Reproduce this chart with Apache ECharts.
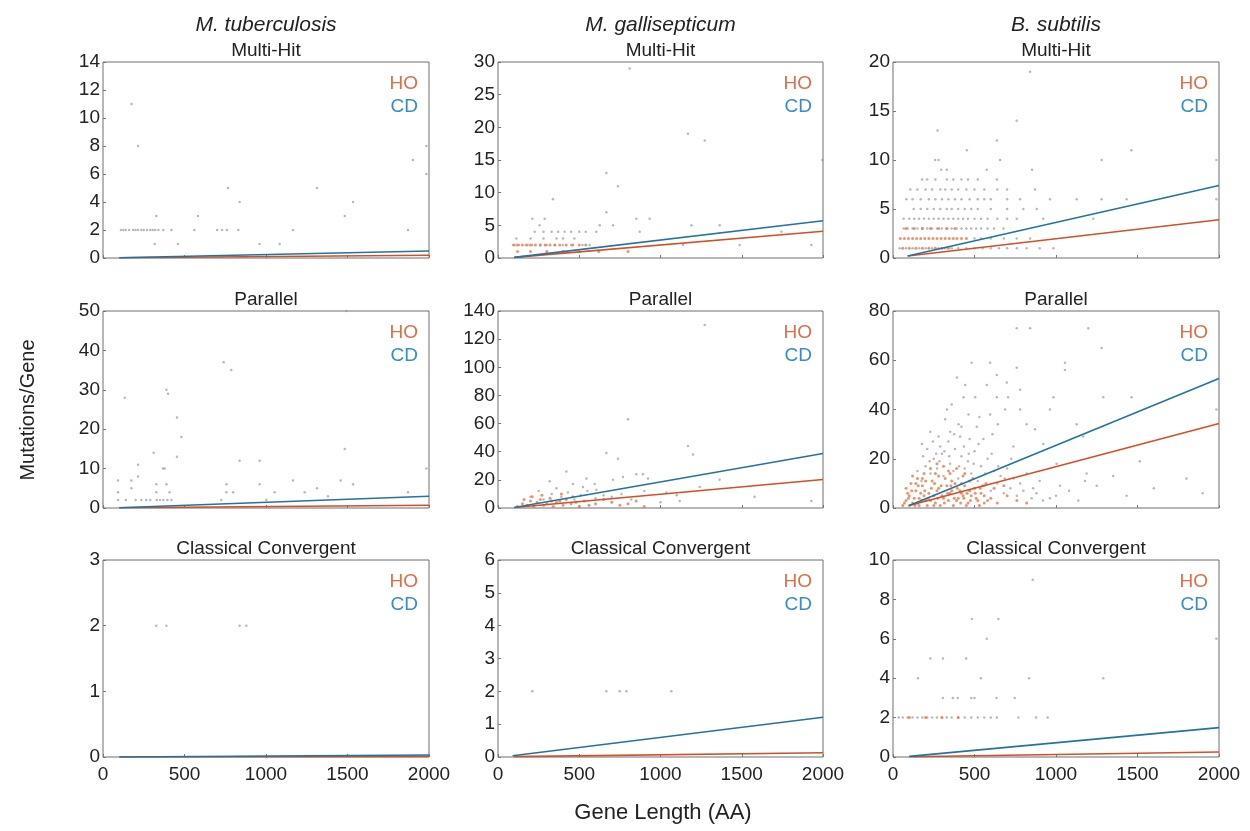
<!DOCTYPE html>
<html>
<head>
<meta charset="utf-8">
<script src="https://cdn.jsdelivr.net/npm/echarts@6/dist/echarts.min.js"></script>
<style>
html, body { margin: 0; background: #fff; }
#chart { width: 1250px; height: 831px; }
</style>
</head>
<body>
<div id="chart"></div>
<script>
// labels
const species = ['M. tuberculosis', 'M. gallisepticum', 'B. subtilis'];
const panelNames = ['Multi-Hit', 'Parallel', 'Classical Convergent'];
const xTicks = [0, 500, 1000, 1500, 2000];

// y scale per panel (row by row)
const yMax = [14, 30, 20, 50, 140, 80, 3, 6, 10];
const yStep = [2, 5, 5, 10, 20, 20, 1, 1, 2];

// fitted lines [start, end] per panel
const hoFit = [
  [[100, 0.02], [2000, 0.2]],
  [[100, 0.1], [2000, 4.1]],
  [[90, 0.2], [2000, 3.9]],
  [[100, 0.05], [2000, 0.7]],
  [[100, 0.3], [2000, 20.2]],
  [[100, 1], [2000, 34.3]],
  [[100, 0], [2000, 0.01]],
  [[100, 0.01], [2000, 0.13]],
  [[100, 0.01], [2000, 0.25]],
];
const cdFit = [
  [[100, 0.02], [2000, 0.5]],
  [[100, 0.1], [2000, 5.7]],
  [[90, 0.2], [2000, 7.4]],
  [[100, 0.05], [2000, 3.0]],
  [[100, 0.3], [2000, 38.7]],
  [[100, 1], [2000, 52.6]],
  [[100, 0], [2000, 0.03]],
  [[90, 0.04], [2000, 1.21]],
  [[100, 0.03], [2000, 1.49]],
];

// scattered genes: single points, then rows of genes sharing a count
const mtbMultiPts = [[175, 11], [215, 8], [767, 5], [838, 4], [1313, 5], [1534, 4], [1483, 3],
  [1902, 7], [1984, 8], [1984, 6], [327, 3], [583, 3]];
const mtbMultiRows = [
  [2, [110, 125, 140, 160, 185, 200, 215, 235, 250, 270, 290, 305, 320, 340, 370, 420, 560, 700, 730, 760, 830, 1166, 1871]],
  [1, [317, 460, 961, 1084]],
];
const mgMultiPts = [[810, 29], [1169, 19], [1272, 18], [1996, 15], [667, 13], [738, 11], [667, 7],
  [338, 9], [211, 6], [287, 6], [851, 6], [933, 6], [626, 5], [708, 5], [256, 5], [1190, 5],
  [1364, 5], [1744, 4], [872, 4], [1138, 2], [1487, 2], [1928, 2]];
const mgMultiRows = [
  [4, [226, 280, 330, 370, 410, 450, 500, 540, 605]],
  [3, [113, 200, 280, 360, 400, 470]],
  [2, [92, 130, 170, 210, 260, 300, 350, 400, 450, 520, 564]],
];
const mgMultiHo = [
  [2, [100, 120, 150, 180, 200, 230, 260, 290, 320, 350, 380, 420, 460, 500, 540]],
  [1, [120, 200, 300, 400, 500, 620, 800]],
];
const bsMultiPts = [[841, 19], [759, 14], [273, 13], [637, 12], [453, 11], [1463, 11], [1984, 10],
  [259, 10], [280, 10], [657, 10], [1280, 10]];
const bsMultiRows = [
  [9, [296, 330, 575, 853]],
  [8, [178, 210, 260, 330, 370, 420, 460, 520, 637]],
  [7, [106, 150, 200, 240, 290, 320, 360, 400, 450, 500, 560, 640, 700, 871]],
  [6, [82, 120, 170, 220, 260, 300, 340, 380, 420, 470, 520, 560, 600, 700, 780, 963, 1127, 1280, 1433, 1984]],
  [5, [127, 170, 210, 250, 290, 330, 360, 400, 440, 480, 520, 600, 700, 800, 882]],
  [4, [65, 100, 130, 160, 190, 220, 250, 280, 310, 340, 370, 400, 430, 460, 500, 540, 580, 640, 700, 759, 922, 1229]],
  [3, [65, 90, 120, 150, 180, 210, 240, 270, 300, 330, 360, 390, 420, 450, 480, 510, 540, 580, 620, 678]],
  [2, [500, 540, 600, 680, 759, 841]],
  [1, [41, 80, 120, 160, 200, 240, 280, 320, 360, 400, 450, 500, 550, 600, 650, 700, 760, 820, 900, 984]],
];
const bsMultiHo = [
  [3, [80, 130, 180, 230, 280, 330, 380]],
  [2, [45, 70, 95, 120, 145, 170, 195, 220, 245, 270, 295, 320, 345, 370, 392, 420, 450]],
  [1, [60, 100, 140, 180, 220, 260, 300, 340]],
];
const mtbParPts = [[133, 28], [740, 37], [787, 35], [389, 30], [399, 29], [454, 23], [481, 18],
  [311, 14], [368, 10], [378, 10], [454, 13], [215, 11], [215, 8], [92, 7], [174, 7], [174, 5],
  [327, 6], [389, 6], [838, 12], [961, 12], [757, 6], [961, 6], [1166, 7], [1237, 4], [1313, 5],
  [1380, 3], [1483, 15], [1458, 7], [1534, 6], [1871, 4], [1984, 10], [1493, 50], [757, 4],
  [798, 4], [1053, 4], [92, 4], [327, 4], [409, 4]];
const mtbParRows = [
  [2, [92, 140, 200, 235, 265, 290, 330, 350, 370, 395, 420, 726, 1002]],
];
const mgParPts = [[1272, 130], [800, 63], [1169, 44], [1200, 38], [667, 39], [738, 35], [318, 19],
  [421, 26], [544, 21], [595, 17], [708, 20], [769, 22], [851, 24], [892, 24], [923, 21], [1036, 11],
  [1118, 5], [1241, 15], [1364, 20], [1579, 8], [1928, 5], [462, 17], [523, 15], [605, 13],
  [200, 8], [250, 12], [280, 6], [330, 10], [360, 14], [390, 8], [430, 11], [470, 6], [510, 9],
  [550, 12], [600, 7], [650, 9], [700, 8], [760, 10], [820, 6], [900, 12], [1000, 4], [1100, 9]];
const mgParHoPts = [[120, 1], [150, 3], [180, 2], [200, 5], [220, 1], [240, 4], [260, 6], [280, 2],
  [300, 3], [320, 7], [340, 1], [360, 4], [380, 5], [400, 2], [420, 6], [450, 3], [480, 4], [500, 1],
  [530, 5], [560, 2], [600, 3], [650, 6], [700, 4], [750, 2], [800, 3], [850, 5], [900, 1], [160, 6],
  [210, 8], [270, 9], [330, 5], [390, 10], [460, 8]];
const bsParPts = [[759, 73], [841, 73], [1198, 73], [1280, 65], [482, 59], [596, 59], [1055, 59],
  [1055, 56], [759, 57], [392, 53], [637, 54], [443, 50], [575, 50], [698, 51], [780, 48], [433, 45],
  [504, 45], [637, 45], [706, 45], [984, 45], [1290, 45], [1463, 45], [963, 40], [331, 40], [463, 38],
  [596, 38], [688, 40], [780, 40], [1984, 40], [229, 31], [280, 29], [351, 31], [402, 34], [514, 33],
  [643, 34], [820, 34], [871, 32], [1167, 29], [1127, 34], [1514, 19], [178, 26], [290, 25], [412, 29],
  [555, 28], [739, 25], [922, 26], [1004, 18], [1188, 14], [1178, 11], [1024, 9], [963, 4], [1137, 3],
  [1433, 5], [250, 20], [300, 22], [350, 18], [380, 24], [420, 21], [460, 19], [500, 23], [540, 17],
  [580, 20], [620, 15], [660, 13], [700, 16], [740, 12], [780, 10], [820, 14], [860, 8], [900, 11],
  [200, 17], [230, 14], [270, 16], [310, 13], [340, 27], [370, 15], [400, 12], [440, 16], [480, 14],
  [520, 11], [560, 9], [600, 7], [640, 10], [680, 6], [720, 8], [760, 5], [800, 7], [850, 4], [880, 6],
  [920, 3], [1000, 5], [1080, 7], [1250, 9], [1350, 13], [1600, 8], [1800, 12], [1900, 6],
  [320, 36], [360, 42], [420, 33], [470, 28], [530, 37], [610, 30], [265, 22], [225, 19], [185, 21],
  [150, 15], [175, 11], [210, 24], [245, 27], [285, 19], [315, 23], [345, 21], [375, 30], [405, 17],
  [435, 25], [465, 22], [495, 18], [525, 26], [565, 14], [605, 22], [645, 17], [685, 12], [725, 20]];
const bsParHoPts = [[60, 1], [80, 3], [100, 5], [120, 2], [140, 7], [160, 4], [180, 9], [200, 3],
  [220, 6], [240, 11], [260, 2], [280, 8], [300, 5], [320, 12], [340, 3], [360, 7], [380, 10], [400, 4],
  [420, 6], [440, 9], [460, 2], [480, 5], [500, 8], [520, 3], [540, 6], [560, 2], [80, 8], [110, 10],
  [150, 12], [190, 14], [230, 16], [270, 18], [310, 17], [350, 14], [390, 16], [430, 13], [470, 11],
  [210, 1], [290, 1], [370, 1], [450, 1], [530, 1], [600, 4], [640, 2], [700, 5], [760, 3], [820, 2],
  [130, 4], [170, 6], [250, 5], [330, 9], [410, 7], [490, 12], [570, 10], [620, 8], [680, 9],
  [90, 6], [150, 2], [190, 5], [230, 3], [270, 7], [310, 4], [350, 6], [390, 3], [430, 5], [470, 7],
  [510, 4], [550, 9], [120, 13], [200, 11], [280, 13], [360, 11], [440, 14], [100, 1], [160, 1], [250, 1],
  [70, 2], [95, 4], [115, 7], [135, 1], [155, 9], [175, 3], [195, 7], [215, 4], [235, 8], [255, 10],
  [275, 4], [295, 9], [315, 2], [335, 6], [355, 9], [375, 4], [395, 8], [415, 2], [435, 4], [455, 6],
  [475, 3], [505, 6], [535, 8], [560, 5], [580, 3], [140, 10], [180, 12], [260, 14], [340, 15], [420, 10]];
const mtbConvPts = [[327, 2], [389, 2], [838, 2], [879, 2]];
const mgConvPts = [[211, 2], [667, 2], [749, 2], [790, 2], [1067, 2]];
const bsConvPts = [[857, 9], [484, 7], [647, 7], [575, 6], [229, 5], [306, 5], [449, 5], [153, 4],
  [539, 4], [835, 4], [1290, 4], [1984, 6]];
const bsConvRows = [
  [3, [306, 367, 398, 480, 500, 635, 747]],
  [2, [35, 60, 90, 120, 150, 180, 210, 240, 270, 300, 330, 360, 400, 440, 480, 520, 560, 600, 637, 769, 878, 949]],
];
const bsConvHo = [[100, 2], [200, 2], [300, 2], [400, 2]];

function rows(list) {
  const out = [];
  list.forEach(([y, xs]) => xs.forEach((x) => out.push([x, y])));
  return out;
}

const grayPts = [
  mtbMultiPts.concat(rows(mtbMultiRows)),
  mgMultiPts.concat(rows(mgMultiRows)),
  bsMultiPts.concat(rows(bsMultiRows)),
  mtbParPts.concat(rows(mtbParRows)),
  mgParPts,
  bsParPts,
  mtbConvPts,
  mgConvPts,
  bsConvPts.concat(rows(bsConvRows)),
];
const hoPts = [[], rows(mgMultiHo), rows(bsMultiHo), [], mgParHoPts, bsParHoPts, [], [], bsConvHo];

// layout
const colLeft = [103, 498, 893];
const colWidth = [326, 325, 326];
const rowTop = [62, 311, 560];
const rowHeight = [196, 197, 197];
const font = '"Liberation Sans", Arial, sans-serif';
const hoColor = '#cf5128';
const cdColor = '#24739f';

const grids = [];
const xAxes = [];
const yAxes = [];
const series = [];
const graphics = [];

for (let i = 0; i < 9; i++) {
  const r = Math.floor(i / 3);
  const c = i % 3;
  const left = colLeft[c];
  const top = rowTop[r];
  grids.push({
    left, top, width: colWidth[c], height: rowHeight[r],
    show: true, borderColor: '#6e6e6e', borderWidth: 1, backgroundColor: '#fff',
  });
  xAxes.push({
    gridIndex: i, type: 'value', min: xTicks[0], max: xTicks[xTicks.length - 1], interval: 500,
    axisLine: { show: false },
    axisTick: { show: true, inside: true, length: 3, lineStyle: { color: '#777' } },
    axisLabel: {
      show: r === 2, fontSize: 19, color: '#222', margin: 8, fontFamily: font,
      formatter: (v) => String(v),
    },
    splitLine: { show: false },
  });
  yAxes.push({
    gridIndex: i, type: 'value', min: 0, max: yMax[i], interval: yStep[i],
    axisLine: { show: false },
    axisTick: { show: true, inside: true, length: 3, lineStyle: { color: '#777' } },
    axisLabel: { fontSize: 19, color: '#222', margin: 3, fontFamily: font },
    splitLine: { show: false },
  });
  series.push({
    type: 'scatter', xAxisIndex: i, yAxisIndex: i, data: grayPts[i], symbolSize: 2.5,
    itemStyle: { color: '#9a9a9a', opacity: 0.7 }, silent: true, z: 2,
  });
  series.push({
    type: 'scatter', xAxisIndex: i, yAxisIndex: i, data: hoPts[i], symbolSize: 3,
    itemStyle: { color: '#e27a4e', opacity: 0.8 }, silent: true, z: 3,
  });
  series.push({
    type: 'line', xAxisIndex: i, yAxisIndex: i, data: hoFit[i], showSymbol: false,
    lineStyle: { color: hoColor, width: 1.6 }, silent: true, z: 4,
  });
  series.push({
    type: 'line', xAxisIndex: i, yAxisIndex: i, data: cdFit[i], showSymbol: false,
    lineStyle: { color: cdColor, width: 1.6 }, silent: true, z: 5,
  });

  const right = left + colWidth[c] - 11;
  graphics.push({
    type: 'text', x: right, y: top + 22,
    style: { text: 'HO', font: `19px ${font}`, fill: '#d8704a', textAlign: 'right', textVerticalAlign: 'middle' },
  });
  graphics.push({
    type: 'text', x: right, y: top + 45,
    style: { text: 'CD', font: `19px ${font}`, fill: '#3a8cc2', textAlign: 'right', textVerticalAlign: 'middle' },
  });
  graphics.push({
    type: 'text', x: left + colWidth[c] / 2, y: top - 11,
    style: { text: panelNames[r], font: `19px ${font}`, fill: '#222', textAlign: 'center', textVerticalAlign: 'middle' },
  });
}

species.forEach((name, c) => {
  graphics.push({
    type: 'text', x: colLeft[c] + colWidth[c] / 2, y: 25,
    style: { text: name, font: `italic 21px ${font}`, fill: '#222', textAlign: 'center', textVerticalAlign: 'middle' },
  });
});
graphics.push({
  type: 'text', x: 663, y: 813,
  style: { text: 'Gene Length (AA)', font: `22px ${font}`, fill: '#222', textAlign: 'center', textVerticalAlign: 'middle' },
});
graphics.push({
  type: 'text', x: 28, y: 410, rotation: Math.PI / 2,
  style: { text: 'Mutations/Gene', font: `20px ${font}`, fill: '#222', textAlign: 'center', textVerticalAlign: 'middle' },
});

const chart = echarts.init(document.getElementById('chart'));
chart.setOption({
  animation: false,
  backgroundColor: '#fff',
  grid: grids,
  xAxis: xAxes,
  yAxis: yAxes,
  series,
  graphic: graphics,
});
</script>
</body>
</html>
